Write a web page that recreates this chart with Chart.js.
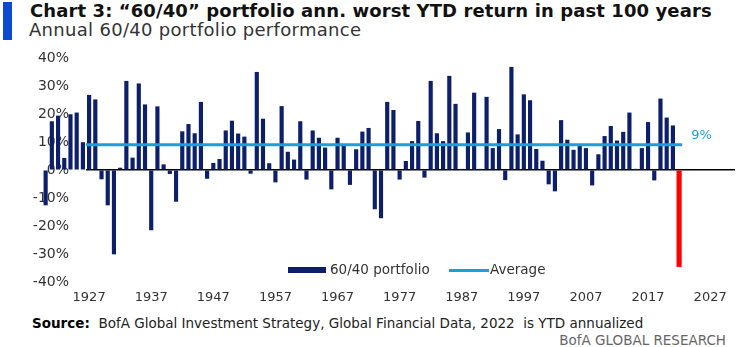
<!DOCTYPE html>
<html>
<head>
<meta charset="utf-8">
<script src="https://cdn.jsdelivr.net/npm/chart.js@4.4.0/dist/chart.umd.min.js"></script>
<style>
  html, body { margin: 0; padding: 0; background: #fff; }
  body { width: 740px; height: 347px; position: relative; overflow: hidden; font-family: "DejaVu Sans", sans-serif; color: #333; }
  .barra { position: absolute; left: 3px; top: 2px; width: 9px; height: 38px; background: #0a4bcf; }
  .titulo { position: absolute; left: 30px; top: 0px; font-size: 18px; font-weight: 700; color: #111; white-space: nowrap; letter-spacing: 0.1px; }
  .subtitulo { position: absolute; left: 29px; top: 19px; font-size: 18px; color: #333; white-space: nowrap; letter-spacing: 0.3px; }
  #grafico-wrap { position: absolute; left: 0; top: 0; width: 740px; height: 310px; }
  .leyenda { position: absolute; top: 261px; font-size: 13.5px; color: #333; white-space: nowrap; }
  .leyenda span.caja { display: inline-block; width: 38px; height: 6px; background: #0d1f6b; vertical-align: middle; margin-right: 4px; }
  .leyenda span.linea { display: inline-block; width: 40px; height: 3px; background: #1b9ed9; vertical-align: middle; margin-right: 1px; }
  .fuente { position: absolute; left: 32px; top: 315px; font-size: 13.5px; color: #222; white-space: nowrap; }
  .fuente b { color: #000; }
  .firma { position: absolute; right: 14px; top: 332px; font-size: 13.5px; color: #666; white-space: nowrap; }
</style>
</head>
<body>
<div class="barra"></div>
<div class="titulo">Chart 3: “60/40” portfolio ann. worst YTD return in past 100 years</div>
<div class="subtitulo">Annual 60/40 portfolio performance</div>
<div id="grafico-wrap"><canvas id="chart1"></canvas></div>
<div class="leyenda" style="left:288px;"><span class="caja"></span>60/40 portfolio</div>
<div class="leyenda" style="left:449px;"><span class="linea"></span>Average</div>
<div class="fuente"><b>Source:</b>&nbsp; BofA Global Investment Strategy, Global Financial Data, 2022&nbsp; is YTD annualized</div>
<div class="firma">BofA GLOBAL RESEARCH</div>

<script>
// Primer año de la serie anual (1920 - 2021).
const PRIMER_ANIO = 1920;
// Rendimiento anual del portafolio 60/40 (%).
const rendimientos = [
    -12.5, 17.3, 19.3, 4.2, 19.8, 20.4, 9.8, 26.7, 25.1, -3.2,
    -12.5, -30.0, 0.7, 31.7, 4.3, 30.8, 23.3, -21.4, 22.6, 1.9,
    -1.3, -11.2, 13.7, 16.3, 13.0, 24.2, -3.0, 2.4, 3.8, 14.0,
    17.5, 12.9, 11.8, -1.2, 34.9, 18.2, 2.3, -4.3, 22.7, 6.4,
    3.6, 17.3, -3.3, 14.0, 11.4, 7.9, -6.8, 11.4, 8.6, -5.2,
    7.3, 13.6, 14.9, -13.9, -17.1, 24.2, 21.3, -3.3, 3.1, 10.2,
    17.4, -2.6, 31.7, 13.0, 10.2, 33.5, 23.5, 0.2, 13.3, 27.5,
    0.2, 26.0, 7.7, 14.5, -3.5, 36.7, 12.6, 26.9, 24.8, 7.4,
    3.2, -5.0, -7.5, 17.7, 10.7, 7.1, 8.9, 7.7, -5.4, 5.5,
    12.0, 15.6, 10.4, 13.5, 20.4, 0.2, 7.7, 17.0, -3.6, 25.4,
    18.6, 15.8
];
// 2022 en lo que va del año, anualizado (%).
const anioYtd = 2022;
const rendimientoYtd = -34.5;
// Promedio histórico (%).
const promedio = 9;
const promedioDesde = 1926.5;
const promedioHasta = 2022.5;
// Etiquetas del eje X.
const aniosEje = [1927, 1937, 1947, 1957, 1967, 1977, 1987, 1997, 2007, 2017, 2027];

const AZUL_OSCURO = '#0d1f6b';
const AZUL_CLARO = '#1b9ed9';
const FUENTE = '"DejaVu Sans", sans-serif';

document.addEventListener('DOMContentLoaded', () => {
    graficoPortafolio();
});

// Etiqueta "9%" al final de la línea del promedio.
const etiquetaPromedio = {
    id: 'etiquetaPromedio',
    afterDatasetsDraw(chart) {
        const { ctx, scales } = chart;
        const x = scales.x.getPixelForValue(promedioHasta) + 9;
        const y = scales.y.getPixelForValue(promedio) - 9;
        ctx.save();
        ctx.font = '13px ' + FUENTE;
        ctx.fillStyle = AZUL_CLARO;
        ctx.textBaseline = 'middle';
        ctx.fillText(`${promedio}%`, x, y);
        ctx.restore();
    }
};

const graficoPortafolio = () => {
    // Se arman los puntos {x, y} de cada año.
    const puntos = rendimientos.map((valor, i) => ({ x: PRIMER_ANIO + i, y: valor }));

    new Chart(document.getElementById('chart1'), {
        type: 'bar',
        data: {
            datasets: [{
                type: 'line',
                label: 'Average',
                data: [{ x: promedioDesde, y: promedio }, { x: promedioHasta, y: promedio }],
                borderColor: AZUL_CLARO,
                borderWidth: 3,
                pointRadius: 0,
                order: 0
            }, {
                label: '60/40 portfolio',
                data: puntos,
                backgroundColor: AZUL_OSCURO,
                barThickness: 3.5,
                grouped: false,
                clip: false,
                order: 1
            }, {
                label: '2022 YTD',
                data: [{ x: anioYtd, y: rendimientoYtd }],
                backgroundColor: '#ff0000',
                barThickness: 4.5,
                grouped: false,
                clip: false,
                order: 2
            }]
        },
        options: {
            responsive: true,
            maintainAspectRatio: false,
            animation: false,
            layout: { padding: { top: 58, right: 5, left: 0, bottom: 0 } },
            plugins: {
                legend: { display: false },
                tooltip: { enabled: false }
            },
            scales: {
                x: {
                    type: 'linear',
                    offset: false,
                    min: 1926.5,
                    max: 2031,
                    afterBuildTicks: (scale) => {
                        scale.ticks = aniosEje.map(v => ({ value: v }));
                    },
                    afterFit: (scale) => { scale.height = 28; },
                    grid: { display: false, offset: false },
                    border: { display: false },
                    ticks: {
                        autoSkip: false,
                        maxRotation: 0,
                        padding: 0,
                        color: '#333',
                        font: { family: FUENTE, size: 13 },
                        callback: (v) => String(v)
                    }
                },
                y: {
                    min: -40,
                    max: 40,
                    afterFit: (scale) => { scale.width = 86; },
                    border: { display: false },
                    grid: {
                        drawTicks: false,
                        color: (ctx) => ctx.tick && ctx.tick.value === 0 ? '#000' : 'transparent',
                        lineWidth: 1.6
                    },
                    ticks: {
                        stepSize: 10,
                        padding: 17,
                        color: '#333',
                        font: { family: FUENTE, size: 14 },
                        callback: (v) => `${v}%`
                    }
                }
            }
        },
        plugins: [etiquetaPromedio]
    });
};
</script>
</body>
</html>
